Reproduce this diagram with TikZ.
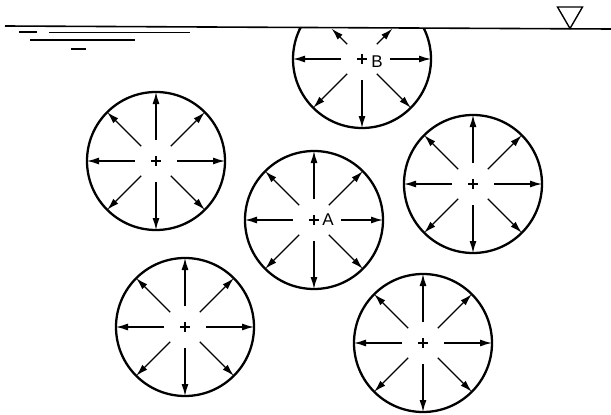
\documentclass[tikz,border=0pt]{standalone}
\usepackage{fontspec}
\setsansfont{Liberation Sans}
\usetikzlibrary{arrows.meta,calc}
\begin{document}
\begin{tikzpicture}[x=1pt,y=1pt,
  pipe/.style={circle, draw, line width=2.3pt, minimum size=138pt, inner sep=0pt, outer sep=0pt},
  arr/.style={line width=1.3pt, -{Latex[length=12pt,width=7pt]}},
  surf/.style={line width=1.6pt},
  ripple/.style={line width=1.2pt},
  crossline/.style={line width=1.1pt},
  lbl/.style={font=\fontsize{17}{17}\selectfont\sffamily, inner sep=0pt}]
\useasboundingbox (0,0) rectangle (611,-415);

% water surface
\coordinate (wl) at (5,-26);
\coordinate (wr) at (611,-29);
\draw[surf] (wl) -- (wr);
\draw[line width=1.4pt] (557.5,-7) -- (582.5,-7) -- (570,-28.5) -- cycle;
\draw[ripple] (19,-32) -- (37,-32);
\draw[ripple] (49,-32.5) -- (190,-32.5);
\draw[ripple] (30,-40) -- (135,-40);
\draw[ripple] (71,-49) -- (86,-49);

% pipes
\node[pipe] (L)  at (156,-161) {};
\node[pipe] (A)  at (314,-220) {};
\node[pipe] (R)  at (473,-184) {};
\node[pipe] (BL) at (185,-327) {};
\node[pipe] (BR) at (423,-343) {};
\begin{scope}
  \clip (0,-28) rectangle (611,-415);
  \node[pipe] (B) at (362,-59) {};
\end{scope}

% labels
\node[lbl] (la) at (328,-220) {A};
\node[lbl] (lb) at (377,-62) {B};

% crosses
\foreach \c in {L,A,R,BL,BR,B} {
  \draw[crossline] ($(\c.center)+(-5,0)$) -- ($(\c.center)+(5,0)$);
  \draw[crossline] ($(\c.center)+(0,-5)$) -- ($(\c.center)+(0,5)$);
}

% radial arrows
\foreach \c in {L,R,BL,BR} {
  \foreach \a in {0,45,...,315}
    \draw[arr] ($(\c.center)+(\a:21)$) -- (\c.\a);
}
\foreach \a in {45,90,...,315}
  \draw[arr] ($(A.center)+(\a:21)$) -- (A.\a);
\draw[arr] ($(A.center)+(0:27)$) -- (A.0);

\foreach \a in {180,225,270,315}
  \draw[arr] ($(B.center)+(\a:21)$) -- (B.\a);
\draw[arr] ($(B.center)+(0:28)$) -- (B.0);
\draw[arr] ($(B.center)+(45:21)$) -- ($(B.center)+(45:43)$);
\draw[arr] ($(B.center)+(135:21)$) -- ($(B.center)+(135:43)$);
\end{tikzpicture}
\end{document}
